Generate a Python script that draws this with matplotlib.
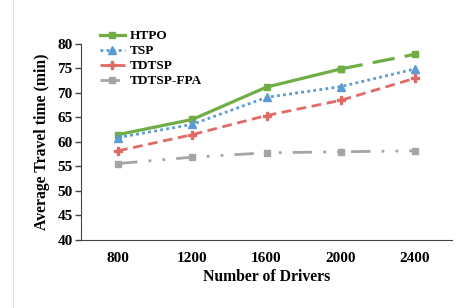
import matplotlib
matplotlib.use("Agg")
import matplotlib.pyplot as plt
from matplotlib.lines import Line2D

drivers = ["800", "1200", "1600", "2000", "2400"]
htpo = [61.5, 64.6, 71.2, 74.9, 77.9]
tsp = [60.9, 63.6, 69.1, 71.3, 74.9]
tdtsp = [58.2, 61.5, 65.4, 68.5, 73.0]
tdtsp_fpa = [55.6, 56.9, 57.8, 58.0, 58.2]

plt.rcParams['font.family'] = ['Liberation Serif', 'DejaVu Serif']
plt.rcParams['font.weight'] = 'bold'

fig = plt.figure(figsize=(4.61, 3.08), dpi=100)
ax = fig.add_axes([0.1757, 0.2208, 0.8048, 0.6364])

x = list(range(len(drivers)))
green = '#70AD47'
# HTPO: solid up to 2000, then long dashes to the last point
ax.plot(x[:4], htpo[:4], color=green, lw=2.3, marker='s', ms=5, label='HTPO')
ax.plot(x[3:], htpo[3:], color=green, lw=2.3, marker='s', ms=5,
        dashes=(7, 3.2))
ax.plot(x, tsp, color='#5B9BD5', lw=2.0, ls=(0, (1, 1.2)), marker='^', ms=6,
        label='TSP')
ax.plot(x, tdtsp, color='#E06A66', lw=2.0, ls=(0, (3.5, 2)), marker='P',
        ms=6, label='TDTSP')
ax.plot(x, tdtsp_fpa, color='#A5A5A5', lw=2.0,
        ls=(0, (7, 4, 1, 4, 1, 4)), marker='s', ms=5, label='TDTSP-FPA')

ax.set_xlim(-0.5, 4.5)
ax.set_ylim(40, 80)
ax.set_yticks(range(40, 81, 5))
ax.set_xticks(x)
ax.set_xticklabels(drivers)
ax.tick_params(axis='x', length=0, pad=8.5, labelsize=11)
ax.tick_params(axis='y', length=4, width=1, direction='out', labelsize=11,
               pad=2, color='#444444')
for lab in ax.get_xticklabels() + ax.get_yticklabels():
    lab.set_fontweight('bold')
ax.spines['top'].set_visible(False)
ax.spines['right'].set_visible(False)
ax.spines['left'].set_color('#444444')
ax.spines['bottom'].set_color('#444444')

ax.set_xlabel('Number of Drivers', fontsize=11.3, fontweight='bold', labelpad=3)
ax.set_ylabel('Average Travel time (min)', fontsize=11.3, fontweight='bold',
              labelpad=5)

leg = ax.legend(loc='upper left', bbox_to_anchor=(0.051, 1.07), frameon=False,
                fontsize=9.5, handlelength=1.9, handletextpad=0.38,
                labelspacing=0.2, borderaxespad=0, borderpad=0)
for t in leg.get_texts():
    t.set_fontweight('bold')

fig.add_artist(Line2D([13 / 461, 13 / 461], [0, 1], color='#dddddd', lw=0.8))

fig.savefig('out.png', dpi=100)
